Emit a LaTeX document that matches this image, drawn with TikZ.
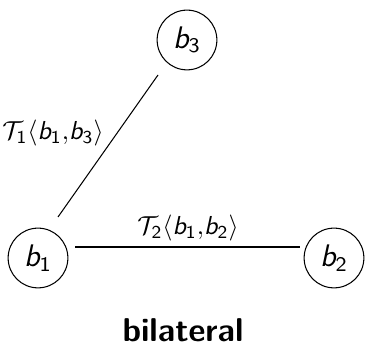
\documentclass[tikz,border=0pt]{standalone}
\usepackage{amsmath,amssymb}
\usepackage{tikz}
\usetikzlibrary{positioning,calc}
\newcommand{\bag}[1]{\text{\sffamily\slshape b}_{\text{\sffamily #1}}}

\begin{document}
\begin{tikzpicture}[x=0.385pt,y=-0.385pt,
    agent/.style={circle, draw, minimum size=23pt, inner sep=0pt, font=\large}]
    \useasboundingbox (0,0) rectangle (366,350);
    % agents
    \node[agent] (b3) at (187,40) {$\bag{3}$};
    \node[agent] (b1) at (38,258) {$\bag{1}$};
    \node[agent] (b2) at (334,258) {$\bag{2}$};
    % relations
    \draw ([shift={(20,-41)}]b1.center) -- ([shift={(-29,35)}]b3.center);
    \draw ([shift={(37,-11)}]b1.center) -- ([shift={(-34,-11)}]b2.center);
    \node (t13) at (53,133) {$\mathcal{T}_{\text{\sffamily 1}}\langle \bag{1}{,}\bag{3}\rangle$};
    \node (t12) at (188,228) {$\mathcal{T}_{\text{\sffamily 2}}\langle \bag{1}{,}\bag{2}\rangle$};
    \node (title) at (183,330) {\fontsize{12.7}{15}\selectfont\bfseries\sffamily bilateral};
\end{tikzpicture}
\end{document}
